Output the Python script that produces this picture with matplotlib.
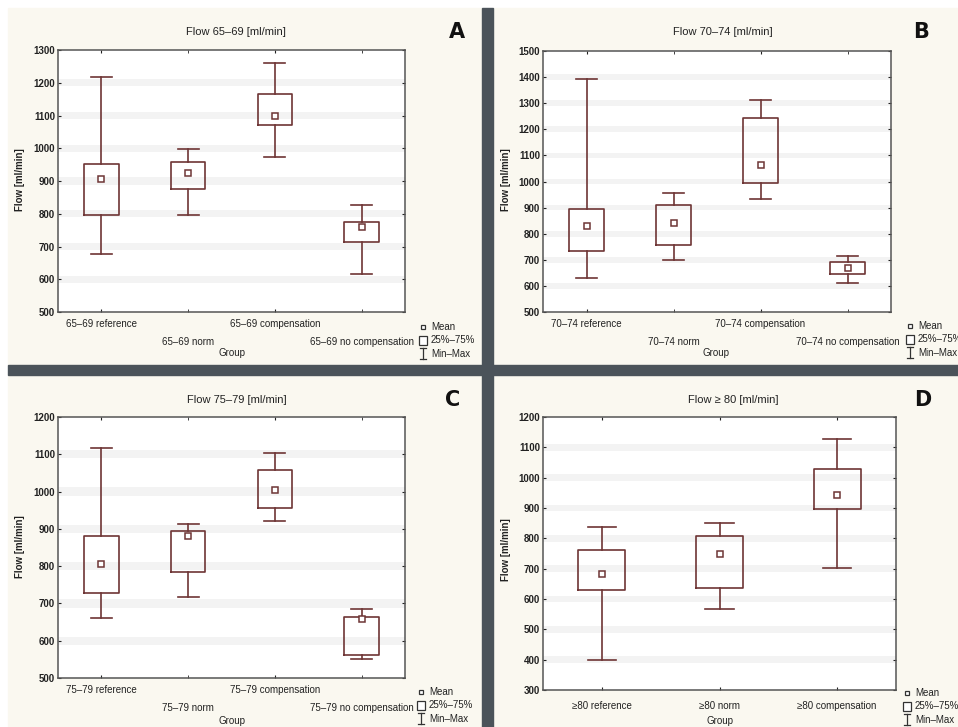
import numpy as np
import matplotlib
matplotlib.use("Agg")
import matplotlib.pyplot as plt
from matplotlib.patches import Rectangle
from matplotlib.lines import Line2D

plt.rcParams['font.family'] = ['Liberation Sans Narrow', 'Liberation Sans', 'DejaVu Sans']

# data: min, q1, mean, q3, max per group
groups_a = ['65–69 reference', '65–69 norm', '65–69 compensation', '65–69 no compensation']
min_a = [678, 796, 973, 616]
q1_a = [796, 877, 1072, 715]
mean_a = [906, 924, 1100, 759]
q3_a = [953, 957, 1166, 775]
max_a = [1218, 997, 1261, 828]

groups_b = ['70–74 reference', '70–74 norm', '70–74 compensation', '70–74 no compensation']
min_b = [632, 699, 934, 612]
q1_b = [734, 755, 996, 644]
mean_b = [831, 840, 1065, 670]
q3_b = [893, 911, 1245, 692]
max_b = [1393, 956, 1311, 715]

groups_c = ['75–79 reference', '75–79 norm', '75–79 compensation', '75–79 no compensation']
min_c = [661, 718, 922, 552]
q1_c = [729, 785, 955, 562]
mean_c = [805, 880, 1004, 657]
q3_c = [881, 894, 1059, 664]
max_c = [1118, 913, 1104, 684]

groups_d = ['≥80 reference', '≥80 norm', '≥80 compensation']
min_d = [400, 568, 703]
q1_d = [629, 636, 896]
mean_d = [682, 750, 942]
q3_d = [763, 807, 1029]
max_d = [837, 849, 1126]

W, H = 958, 727
fig = plt.figure(figsize=(W / 100, H / 100), dpi=100, facecolor='white')

BOX = '#6e3535'
BEIGE = '#faf8f0'
SEP = '#4b535a'


def fx(px):
    return px / W


def fy(py):
    return 1 - py / H


# panel backgrounds and dark separators
for x0, y0, x1, y1 in [(8, 8, 482, 365), (493, 8, 958, 365), (8, 375, 482, 727), (493, 375, 958, 727)]:
    fig.patches.append(Rectangle((fx(x0), fy(y1)), fx(x1 - x0), (y1 - y0) / H,
                                 transform=fig.transFigure, color=BEIGE, zorder=-10))
fig.patches.append(Rectangle((fx(482), 0), fx(11), 1 - 8 / H, transform=fig.transFigure, color=SEP, zorder=-9))
fig.patches.append(Rectangle((fx(8), fy(375)), 1, 10 / H, transform=fig.transFigure, color=SEP, zorder=-9))


def panel(box, groups, mn, q1, mean, q3, mx, ylim, title, letter, stagger,
          title_xy, letter_xy, ylab_xy, grp_xy, leg_xy, lab_pad):
    l, r, t, b = box
    ax = fig.add_axes([fx(l), fy(b), fx(r - l), (b - t) / H])
    ax.set_facecolor('white')
    ticks = np.arange(ylim[0], ylim[1] + 1, 100)
    for tk in ticks[1:-1]:
        ax.axhspan(tk - 11, tk + 11, color='#f3f3f3', zorder=0, lw=0)
    stats = []
    for i in range(len(groups)):
        stats.append({'med': mean[i], 'q1': q1[i], 'q3': q3[i], 'whislo': mn[i],
                      'whishi': mx[i], 'mean': mean[i], 'fliers': []})
    n = len(groups)
    ax.bxp(stats, positions=range(n), widths=0.4, showmeans=True, showfliers=False,
           boxprops=dict(color=BOX, lw=1.2),
           whiskerprops=dict(color=BOX, lw=1.2),
           capprops=dict(color=BOX, lw=1.2),
           capwidths=0.24,
           medianprops=dict(lw=0),
           meanprops=dict(marker='s', markersize=4, markerfacecolor='white',
                          markeredgecolor=BOX, markeredgewidth=1.1))
    ax.set_xlim(-0.5, n - 0.5)
    ax.set_ylim(*ylim)
    ax.set_yticks(ticks)
    if stagger:
        ax.set_xticks(range(0, n, 2), [groups[i] for i in range(0, n, 2)])
        ax.set_xticks(range(1, n, 2), [groups[i] for i in range(1, n, 2)], minor=True)
    else:
        ax.set_xticks(range(n), groups)
    ax.tick_params(axis='y', labelsize=7, colors='#222222', direction='in', length=2,
                   right=True, pad=2)
    ax.tick_params(axis='x', which='both', direction='in', length=2, top=True,
                   labelsize=7, colors='#222222')
    ax.tick_params(axis='x', which='major', pad=lab_pad)
    ax.tick_params(axis='x', which='minor', pad=lab_pad + 13)
    for lbl in ax.get_yticklabels():
        lbl.set_fontweight('bold')
    for sp in ax.spines.values():
        sp.set_color('#555555')
        sp.set_linewidth(1.1)

    fig.text(fx(title_xy[0]), fy(title_xy[1]), title, ha='center', va='center',
             fontsize=8, color='#222222')
    fig.text(fx(letter_xy[0]), fy(letter_xy[1]), letter, ha='center', va='center',
             fontsize=15, fontweight='bold', color='#111111', family='DejaVu Sans')
    fig.text(fx(ylab_xy[0]), fy(ylab_xy[1]), 'Flow [ml/min]', ha='center', va='center',
             rotation=90, fontsize=7, fontweight='bold', color='#222222')
    fig.text(fx(grp_xy[0]), fy(grp_xy[1]), 'Group', ha='center', va='center',
             fontsize=7, color='#222222')

    # legend
    lx, ly = leg_xy
    fig.add_artist(Line2D([fx(lx)], [fy(ly)], marker='s', markersize=3.2, markerfacecolor='white',
                          markeredgecolor='#333333', markeredgewidth=0.9, transform=fig.transFigure))
    fig.add_artist(Rectangle((fx(lx - 4), fy(ly + 18)), fx(8), 9 / H, transform=fig.transFigure,
                             facecolor='white', edgecolor='#333333', lw=0.9))
    fig.add_artist(Line2D([fx(lx), fx(lx)], [fy(ly + 21), fy(ly + 32)], color='#333333', lw=0.9,
                          transform=fig.transFigure))
    fig.add_artist(Line2D([fx(lx - 3), fx(lx + 3)], [fy(ly + 21), fy(ly + 21)], color='#333333', lw=0.9,
                          transform=fig.transFigure))
    fig.add_artist(Line2D([fx(lx - 3), fx(lx + 3)], [fy(ly + 32), fy(ly + 32)], color='#333333', lw=0.9,
                          transform=fig.transFigure))
    for dy, txt in [(0, 'Mean'), (13, '25%–75%'), (27, 'Min–Max')]:
        fig.text(fx(lx + 8), fy(ly + dy), txt, ha='left', va='center', fontsize=7, color='#222222')
    return ax


panel((58, 405, 50, 312), groups_a, min_a, q1_a, mean_a, q3_a, max_a, (500, 1300),
      'Flow 65–69 [ml/min]', 'A', True,
      (236, 32), (457, 32), (20, 180), (232, 353), (423, 327), 5)
panel((543, 891, 51, 312), groups_b, min_b, q1_b, mean_b, q3_b, max_b, (500, 1500),
      'Flow 70–74 [ml/min]', 'B', True,
      (723, 32), (921, 32), (506, 180), (716, 353), (910, 326), 5)
panel((58, 405, 417, 678), groups_c, min_c, q1_c, mean_c, q3_c, max_c, (500, 1200),
      'Flow 75–79 [ml/min]', 'C', True,
      (237, 400), (453, 400), (20, 547), (232, 721), (421, 692), 5)
panel((543, 896, 417, 690), groups_d, min_d, q1_d, mean_d, q3_d, max_d, (300, 1200),
      'Flow ≥ 80 [ml/min]', 'D', False,
      (733, 400), (923, 400), (506, 550), (720, 721), (907, 693), 8)

fig.savefig('out.png', dpi=100, facecolor='white')
